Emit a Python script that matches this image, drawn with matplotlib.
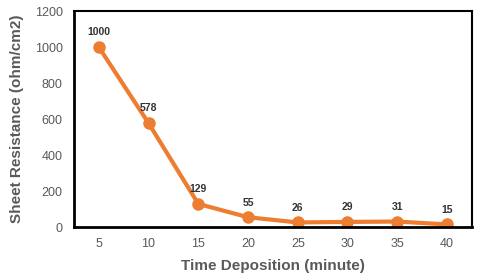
import matplotlib
matplotlib.use("Agg")
import matplotlib.pyplot as plt

plt.rcParams['font.family'] = ['Liberation Sans', 'DejaVu Sans']

# data
times = ['5', '10', '15', '20', '25', '30', '35', '40']
resistance = [1000, 578, 129, 55, 26, 29, 31, 15]

ORANGE = '#ED7D31'
GREY = '#595959'

fig = plt.figure(figsize=(4.8, 2.78), dpi=100)
ax = fig.add_axes([0.154, 0.183, 0.829, 0.777])

x = list(range(len(times)))
ax.plot(x, resistance, color=ORANGE, linewidth=3, marker='o', markersize=8)

for xi, v in zip(x, resistance):
    ax.annotate(str(v), (xi, v), xytext=(0, 7), textcoords='offset points',
                ha='center', va='bottom', fontsize=7.5, fontweight='bold', color='#333333')

ax.set_xlim(-0.5, len(times) - 0.5)
ax.set_ylim(0, 1200)
ax.set_xticks(x)
ax.set_xticklabels(times)
ax.set_yticks(range(0, 1201, 200))
ax.tick_params(axis='both', length=0, labelsize=9, labelcolor=GREY, pad=8)

for side in ['top', 'right']:
    ax.spines[side].set_linewidth(1.5)
for side in ['left', 'bottom']:
    ax.spines[side].set_linewidth(2)
for s in ax.spines.values():
    s.set_color('black')

ax.set_xlabel('Time Deposition (minute)', fontsize=11, fontweight='bold', color=GREY, labelpad=6)
ax.set_ylabel('Sheet Resistance (ohm/cm2)', fontsize=11, fontweight='bold', color=GREY, labelpad=8)

fig.savefig('out.png', dpi=100)
